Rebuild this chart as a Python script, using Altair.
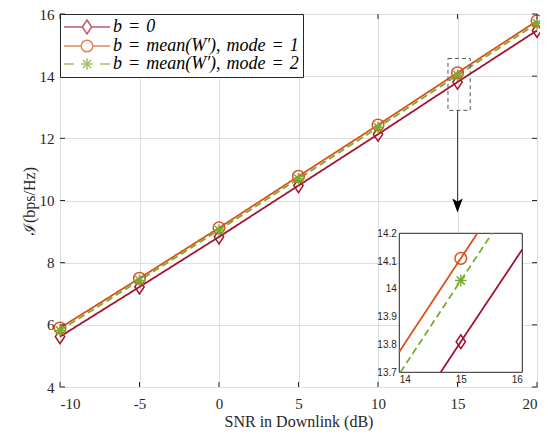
import altair as alt
import pandas as pd

# ---------------- data ----------------
snr = [-10, -5, 0, 5, 10, 15, 20]
rate_b0 = [5.62, 7.22, 8.83, 10.48, 12.13, 13.81, 15.47]
rate_mode1 = [5.90, 7.50, 9.12, 10.78, 12.43, 14.11, 15.78]
rate_mode2 = [5.82, 7.43, 9.05, 10.70, 12.35, 14.03, 15.70]

SP = "\u2004"
series = [f"b{SP}={SP}0",
          f"b{SP}={SP}mean(W′),{SP}mode{SP}={SP}1",
          f"b{SP}={SP}mean(W′),{SP}mode{SP}={SP}2"]
colors = ["#A2142F", "#D95319", "#77AC30"]

x_ticks = [-10, -5, 0, 5, 10, 15, 20]
y_ticks = [4, 6, 8, 10, 12, 14, 16]
inset_x_domain = [14, 16]
inset_y_domain = [13.7, 14.2]
inset_x_ticks = [14, 15, 16]
inset_y_ticks = [13.7, 13.8, 13.9, 14.0, 14.1, 14.2]
zoom_box_x = [14.4, 15.8]
zoom_box_y = [12.9, 14.57]
arrow_x = 15
arrow_y = [12.9, 9.84]

# ---------------- layout ----------------
W, H = 477, 373
INSET_PX_X = [339.3, 462.3]
INSET_PX_Y = [358.3, 219.3]

SERIF = "Liberation Serif"
SANS = "Liberation Sans"
DARK = "#262626"

DIAMOND = "M0,-1.2L0.8,0L0,1.2L-0.8,0Z"
CIRCLE = "M1,0A1,1 0 1,1 -1,0A1,1 0 1,1 1,0Z"
ASTER = "M0,-1L0,1M-1,0L1,0M-0.7,-0.7L0.7,0.7M-0.7,0.7L0.7,-0.7"
ARROW = "M0,1L-0.75,-1L0,-0.55L0.75,-1Z"
LEG_DIAMOND = "M-3.96,0L-0.8,0M0.8,0L3.96,0" + DIAMOND
LEG_CIRCLE = "M-3.96,0L-1,0M1,0L3.96,0" + CIRCLE
LEG_ASTER = "M-3.96,0L-2.24,0M2.24,0L3.96,0" + ASTER

rows = []
for name, vals in zip(series, [rate_b0, rate_mode1, rate_mode2]):
    for s, v in zip(snr, vals):
        rows.append({"snr": s, "series": name, "value": v})
df = pd.DataFrame(rows)


def clip(p0, p1, xmin, xmax, ymin, ymax):
    x0, y0 = p0
    dx, dy = p1[0] - x0, p1[1] - y0
    t0, t1 = 0.0, 1.0
    for p, q in ((-dx, x0 - xmin), (dx, xmax - x0), (-dy, y0 - ymin), (dy, ymax - y0)):
        if p == 0:
            if q < 0:
                return None
            continue
        t = q / p
        if p < 0:
            t0 = max(t0, t)
        else:
            t1 = min(t1, t)
    if t0 > t1:
        return None
    return [(x0 + t0 * dx, y0 + t0 * dy), (x0 + t1 * dx, y0 + t1 * dy)]


inset_rows = []
for name, vals in zip(series, [rate_b0, rate_mode1, rate_mode2]):
    pts = []
    for i in range(len(snr) - 1):
        seg = clip((snr[i], vals[i]), (snr[i + 1], vals[i + 1]),
                   inset_x_domain[0], inset_x_domain[1], inset_y_domain[0], inset_y_domain[1])
        if seg:
            for p in seg:
                if not pts or abs(pts[-1][0] - p[0]) > 1e-9:
                    pts.append(p)
    for k, (x, y) in enumerate(pts):
        inset_rows.append({"series": name, "x": x, "y": y, "k": k})
inset_df = pd.DataFrame(inset_rows)

color_scale = alt.Scale(domain=series, range=colors)
shape_scale = alt.Scale(domain=series, range=[DIAMOND, "circle", ASTER])
dash_scale = alt.Scale(domain=series, range=[[1, 0], [1, 0], [7, 4]])

mx = alt.Scale(domain=[-10, 20], nice=False, zero=False)
my = alt.Scale(domain=[4, 16], nice=False, zero=False)
ax_x = alt.Axis(values=x_ticks, title="SNR in Downlink (dB)", grid=True, gridColor="#dedede",
                ticks=False, domain=False, labelExpr="datum.value + ''", labelFont=SERIF,
                labelFontSize=15, labelColor=DARK, labelPadding=9, titleFont=SERIF,
                titleFontSize=16, titleFontWeight="normal", titleColor=DARK, titlePadding=2)
ax_y = alt.Axis(values=y_ticks, title="ℐ(bps/Hz)", grid=True, gridColor="#dedede",
                ticks=False, domain=False, labelExpr="datum.value + ''", labelFont=SERIF,
                labelFontSize=15, labelColor=DARK, labelPadding=6, titleFont=SERIF,
                titleFontSize=16, titleFontWeight="normal", titleColor=DARK, titlePadding=2)

X = alt.X("snr:Q", scale=mx, axis=ax_x)
Y = alt.Y("value:Q", scale=my, axis=ax_y)

lines = alt.Chart(df).mark_line(strokeWidth=1.8).encode(
    x=X, y=Y,
    color=alt.Color("series:N", scale=color_scale, legend=None),
    strokeDash=alt.StrokeDash("series:N", scale=dash_scale, legend=None),
)
points = alt.Chart(df).mark_point(filled=False, strokeWidth=1.5, size=135, opacity=1).encode(
    x=X, y=Y,
    color=alt.Color("series:N", scale=color_scale, legend=None),
    shape=alt.Shape("series:N", scale=shape_scale, legend=None),
)

xt = pd.DataFrame({"snr": x_ticks})
yt = pd.DataFrame({"value": y_ticks})
tick_style = dict(color=DARK, strokeWidth=1)
ticks_b = alt.Chart(xt).mark_rule(**tick_style).encode(x=X, y=alt.value(H), y2=alt.value(H - 5))
ticks_t = alt.Chart(xt).mark_rule(**tick_style).encode(x=X, y=alt.value(0), y2=alt.value(5))
ticks_l = alt.Chart(yt).mark_rule(**tick_style).encode(y=Y, x=alt.value(0), x2=alt.value(5))
ticks_r = alt.Chart(yt).mark_rule(**tick_style).encode(y=Y, x=alt.value(W), x2=alt.value(W - 5))

box_df = pd.DataFrame({"snr": [zoom_box_x[0]], "snr2": [zoom_box_x[1]],
                       "value": [zoom_box_y[0]], "value2": [zoom_box_y[1]]})
zoom_box = alt.Chart(box_df).mark_rect(fillOpacity=0, stroke="#555555", strokeWidth=1,
                                       strokeDash=[4, 3]).encode(
    x=X, x2="snr2:Q", y=Y, y2="value2:Q")

arrow_df = pd.DataFrame({"snr": [arrow_x], "value": [arrow_y[0]], "value2": [arrow_y[1]]})
arrow_line = alt.Chart(arrow_df).mark_rule(color="#404040", strokeWidth=1).encode(
    x=X, y=Y, y2="value2:Q")
head_df = pd.DataFrame({"snr": [arrow_x], "value": [arrow_y[1]]})
arrow_head = alt.Chart(head_df).mark_point(shape=ARROW, filled=True, color="black", opacity=1,
                                           size=196).encode(x=X, y=Y)

main = alt.layer(lines, points, ticks_b, ticks_t, ticks_l, ticks_r, zoom_box, arrow_line, arrow_head)

# ---------------- inset ----------------
ix = alt.Scale(domain=inset_x_domain, range=INSET_PX_X, nice=False, zero=False)
iy = alt.Scale(domain=inset_y_domain, range=INSET_PX_Y, nice=False, zero=False)
iax_x = alt.Axis(orient="bottom", offset=-(H - INSET_PX_Y[0]), values=inset_x_ticks, title=None,
                 grid=False, ticks=False, domain=False, labelFont=SANS, labelFontSize=10,
                 labelColor=DARK, labelPadding=2, format="~g")
iax_y = alt.Axis(orient="left", offset=-INSET_PX_X[0], values=inset_y_ticks, title=None,
                 grid=False, ticks=False, domain=False, labelFont=SANS, labelFontSize=10,
                 labelColor=DARK, labelPadding=3, format="~g")

ibox_df = pd.DataFrame({"x": [inset_x_domain[0]], "x2": [inset_x_domain[1]],
                        "y": [inset_y_domain[0]], "y2": [inset_y_domain[1]]})
inset_box = alt.Chart(ibox_df).mark_rect(fill="white", stroke=DARK, strokeWidth=1).encode(
    x=alt.X("x:Q", scale=ix, axis=iax_x), x2="x2:Q",
    y=alt.Y("y:Q", scale=iy, axis=iax_y), y2="y2:Q")
inset_lines = alt.Chart(inset_df).mark_line(strokeWidth=1.8).encode(
    x=alt.X("x:Q", scale=ix, axis=iax_x),
    y=alt.Y("y:Q", scale=iy, axis=iax_y),
    order="k:Q",
    color=alt.Color("series:N", scale=color_scale, legend=None),
    strokeDash=alt.StrokeDash("series:N", scale=dash_scale, legend=None),
)
inset_pts = alt.Chart(df[df.snr == 15].rename(columns={"snr": "x", "value": "y"})).mark_point(
    filled=False, strokeWidth=1.5, size=135, opacity=1).encode(
    x=alt.X("x:Q", scale=ix, axis=iax_x),
    y=alt.Y("y:Q", scale=iy, axis=iax_y),
    color=alt.Color("series:N", scale=color_scale, legend=None),
    shape=alt.Shape("series:N", scale=shape_scale, legend=None),
)
inset = alt.layer(inset_box, inset_lines, inset_pts)

# ---------------- legend ----------------
leg = alt.Legend(title=None, orient="top-left", offset=0, padding=4, strokeColor=DARK,
                 fillColor="white", labelFont=SERIF, labelFontStyle="italic", labelFontSize=18,
                 labelColor="black", symbolSize=135, symbolStrokeWidth=1.5, symbolOffset=14,
                 labelOffset=17, rowPadding=0, labelLimit=400)
legend_layer = alt.Chart(df).transform_filter("false").mark_point(filled=False, strokeWidth=1.5).encode(
    color=alt.Color("series:N", scale=color_scale, legend=leg),
    shape=alt.Shape("series:N", scale=alt.Scale(domain=series, range=[LEG_DIAMOND, LEG_CIRCLE, LEG_ASTER]),
                    legend=leg),
)

chart = alt.layer(main, inset, legend_layer).resolve_scale(
    x="independent", y="independent", color="independent", shape="independent",
    strokeDash="independent"
).properties(
    width=W, height=H,
    padding={"left": 52, "top": 6, "right": 3, "bottom": 44},
    autosize=alt.AutoSizeParams(type="none"),
).configure_view(stroke=DARK, strokeWidth=1)

chart.save("out.html", embed_options={"renderer": "svg", "actions": False})
